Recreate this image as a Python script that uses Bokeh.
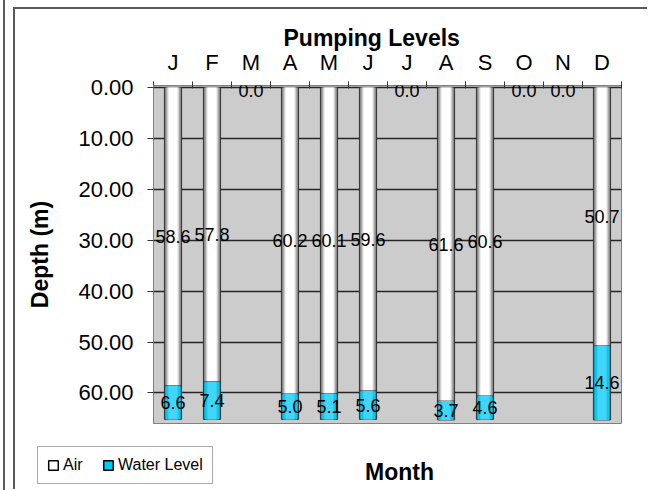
from bokeh.plotting import figure
from bokeh.layouts import column
from bokeh.models import (Range1d, FixedTicker, Legend, LegendItem, ColumnDataSource,
                          Label, LabelSet, NumeralTickFormatter)
from bokeh.embed import file_html
from bokeh.resources import INLINE
from bokeh.core.properties import value

# ---- data ----
months = ["J", "F", "M", "A", "M", "J", "J", "A", "S", "O", "N", "D"]
air = [58.6, 57.8, 0.0, 60.2, 60.1, 59.6, 0.0, 61.6, 60.6, 0.0, 0.0, 50.7]
water = [6.6, 7.4, None, 5.0, 5.1, 5.6, None, 3.7, 4.6, None, None, 14.6]
y_ticks = [0, 10, 20, 30, 40, 50, 60]

FONT = "Liberation Sans"
xs = list(range(1, len(months) + 1))
wat = [float("nan") if w is None else w for w in water]
src = ColumnDataSource(dict(
    x=xs,
    air=air,
    wtop=[a + w for a, w in zip(air, wat)],
))

p = figure(width=632, height=430, x_range=Range1d(0.5, 12.5), y_range=Range1d(66, -0.4),
           x_axis_location="above", output_backend="svg", toolbar_location=None,
           min_border_left=138, min_border_right=26, min_border_top=76, min_border_bottom=16,
           background_fill_color="#CCCCCC", border_fill_color="white")
p.outline_line_color = "#808080"
p.title.text = "Pumping Levels"
p.title.align = "left"
p.title.offset = 130
p.title.standoff = -8
p.title.text_font = FONT
p.title.text_font_style = "bold"
p.title.text_font_size = "23px"
p.title.text_color = "black"

# gridlines
p.xgrid.visible = False
p.ygrid.ticker = FixedTicker(ticks=y_ticks)
p.ygrid.grid_line_color = "#262626"
p.ygrid.grid_line_width = 1.4

# bars with shaded (cylinder) look
air_layers = [(0.44, "#6e6e6e", "#333333"), (0.39, "#9c9c9c", None),
              (0.32, "#cfcfcf", None), (0.24, "#ffffff", None)]
for w, fc, lc in air_layers:
    p.vbar(x="x", bottom=0, top="air", width=w, source=src, fill_color=fc,
           line_color=lc, line_width=1)
wat_layers = [(0.44, "#0a9cc0", "#333333"), (0.37, "#14c3ec", None), (0.24, "#3fd6f8", None)]
for w, fc, lc in wat_layers:
    p.vbar(x="x", bottom="air", top="wtop", width=w, source=src, fill_color=fc,
           line_color=lc, line_width=1)

# data labels
air_lab = ColumnDataSource(dict(x=xs, y=[a / 2 for a in air], t=["%.1f" % a for a in air],
                                yo=[-3 if a == 0 else 0 for a in air]))
wi = [i for i, w in enumerate(water) if w is not None]
wat_lab = ColumnDataSource(dict(x=[xs[i] for i in wi],
                                y=[air[i] + water[i] / 2 for i in wi],
                                t=["%.1f" % water[i] for i in wi],
                                yo=[0 for i in wi]))
for s in (air_lab, wat_lab):
    p.add_layout(LabelSet(x="x", y="y", text="t", source=s, y_offset="yo",
                          text_align="center",
                          text_baseline="middle", text_font=value(FONT),
                          text_font_size="18px", text_color="black"))

# y axis
ya = p.yaxis[0]
ya.ticker = FixedTicker(ticks=y_ticks)
ya.formatter = NumeralTickFormatter(format="0.00")
ya.major_label_text_font = FONT
ya.major_label_text_font_size = "22px"
ya.major_label_text_color = "black"
ya.major_label_standoff = 14
ya.major_tick_out = 6
ya.major_tick_in = 0
ya.minor_tick_out = 0
ya.minor_tick_in = 0
ya.axis_line_color = "#808080"
ya.major_tick_line_color = "#333333"
ya.axis_label = "Depth (m)"
ya.axis_label_text_font = FONT
ya.axis_label_text_font_style = "bold"
ya.axis_label_text_font_size = "23px"
ya.axis_label_text_color = "black"
ya.axis_label_standoff = 22

# x axis (top)
xa = p.xaxis[0]
xa.ticker = FixedTicker(ticks=xs, minor_ticks=[x - 0.5 for x in xs] + [xs[-1] + 0.5])
xa.major_label_overrides = {x: m for x, m in zip(xs, months)}
xa.major_label_text_font = FONT
xa.major_label_text_font_size = "22px"
xa.major_label_text_color = "black"
xa.major_label_standoff = 7
xa.major_tick_out = 0
xa.major_tick_in = 0
xa.minor_tick_out = 4
xa.minor_tick_in = 3
xa.minor_tick_line_color = "#333333"
xa.axis_line_color = "#808080"

# ---- bottom strip: legend + x title ----
p2 = figure(width=632, height=50, x_range=Range1d(0, 632), y_range=Range1d(0, 50),
            output_backend="svg", toolbar_location=None, x_axis_location=None,
            y_axis_location=None, min_border=0, background_fill_color="white",
            border_fill_color="white")
p2.outline_line_color = None
p2.grid.visible = False
for fig in (p, p2):
    try:
        fig.frame_align = False
    except Exception:
        pass

r_air = p2.vbar(x="x", top="air", source=src, width=0.4, fill_color="white",
                line_color="black", line_width=1.5, visible=False)
r_wat = p2.vbar(x="x", top="air", source=src, width=0.4, fill_color="#00c8f5",
                line_color="black", line_width=1.5, visible=False)
leg = Legend(items=[LegendItem(label="Air", renderers=[r_air]),
                    LegendItem(label="Water Level", renderers=[r_wat])],
             orientation="horizontal", location=(22, 5),
             label_text_font=FONT, label_text_font_size="16px", label_text_color="black",
             glyph_width=12, glyph_height=12, label_standoff=4, spacing=19,
             padding=9, margin=0, border_line_color="#555555", border_line_width=1,
             background_fill_color="white", background_fill_alpha=1,
             inactive_fill_alpha=0)
leg.label_height = 9
leg.label_width = 20
p2.add_layout(leg, "center")

p2.add_layout(Label(x=384, y=18, text="Month",
                    text_font=FONT, text_font_style="bold", text_font_size="23px",
                    text_align="center", text_baseline="middle", text_color="black"))

layout = column(p, p2, spacing=0,
                styles={"margin-left": "13px", "margin-top": "7px",
                        "border-left": "2px solid #5a5a5a", "border-top": "2px solid #5a5a5a",
                        "outline": "2px solid #5a5a5a", "outline-offset": "8px"})

open("out.html", "w").write(file_html(layout, INLINE))
